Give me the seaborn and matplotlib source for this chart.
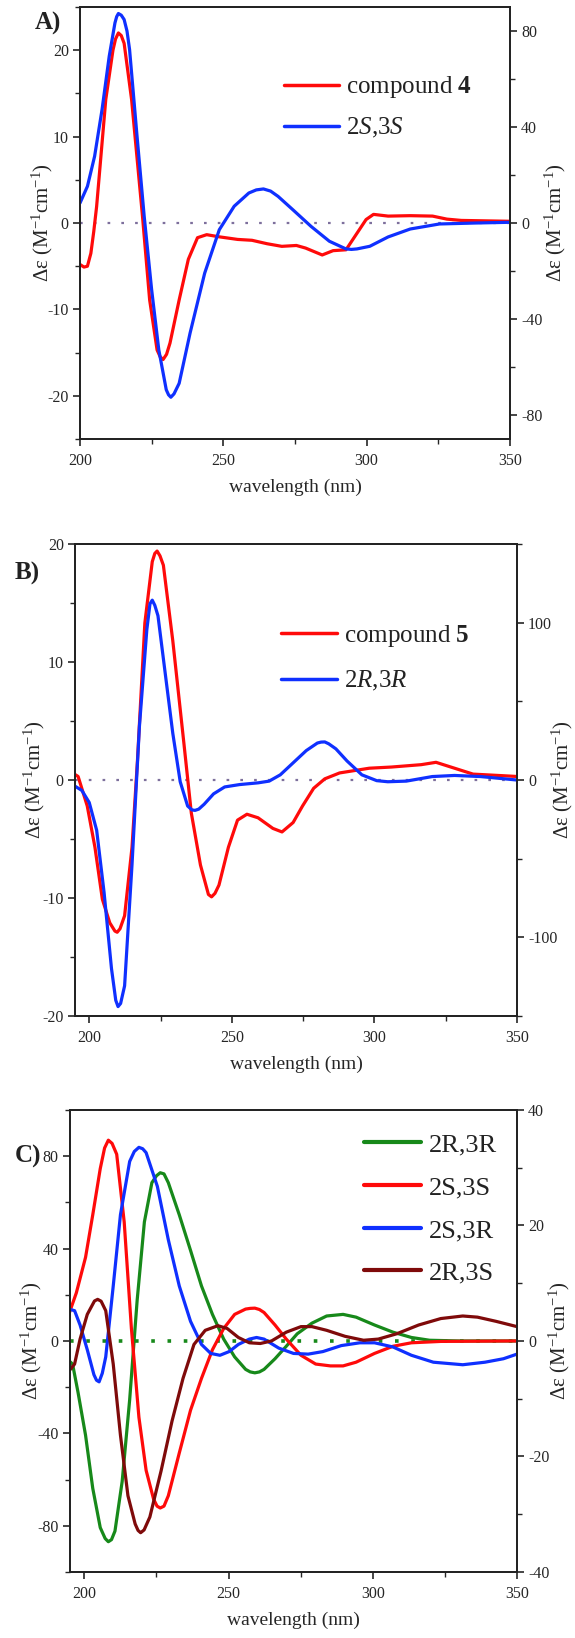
import numpy as np
import matplotlib
matplotlib.use("Agg")
import matplotlib.pyplot as plt
import matplotlib.ticker as ticker
from matplotlib.lines import Line2D
import seaborn as sns

# ---------------- data ----------------
# Panel A: compound 4 (left axis) and calculated 2S,3S (right axis)
a_red_wl = [200, 201.4, 202.6, 203.8, 204.8, 205.8, 209, 211.5, 212.4, 213.4, 214.4, 215.4, 218,
            221.8, 224.3, 226.9, 228, 229, 230.2, 231.4, 234.6, 237.8, 241, 244.2, 248.6, 255,
            260, 265.3, 270.4, 275.5, 278.7, 284.5, 288.3, 292.8, 296.6, 299.8, 302.4, 307.5,
            315.2, 323, 328, 333, 350]
a_red_de = [-4.8, -5.1, -5.0, -3.5, -1.0, 1.9, 14.3, 20, 21.3, 22, 21.7, 20.8, 14.3,
            0.8, -8.9, -14.7, -15.5, -15.8, -15.2, -13.9, -8.9, -4.2, -1.7, -1.35, -1.6, -1.9,
            -2.0, -2.4, -2.7, -2.6, -2.9, -3.7, -3.2, -3.1, -1.2, 0.4, 1.0, 0.8,
            0.85, 0.8, 0.45, 0.3, 0.2]
a_blue_wl = [200, 202.6, 205.1, 207.7, 210.2, 212.2, 212.8, 213.4, 214.4, 215.4, 216.4, 217.3,
             219.8, 222.4, 225, 227.5, 230.1, 230.9, 231.7, 232.8, 234.6, 238.4, 243.5, 248.6,
             253.8, 258.9, 261.5, 264, 266.5, 269.1, 274.2, 280.6, 287, 292.8, 294.7, 296.6,
             301.1, 307.5, 315.2, 325.4, 338, 350]
a_blue_de = [8.3, 15.3, 27.8, 47.3, 69.5, 83.4, 86, 87.3, 86.6, 84.8, 80, 72.3,
             37.6, 2.8, -27.8, -52.9, -69.5, -71.6, -72.6, -71.2, -66.8, -45.9, -20.9, -2.8,
             7.0, 12.5, 13.8, 14.2, 13.3, 11.1, 5.6, -1.4, -7.6, -10.8, -11, -10.8,
             -9.7, -5.8, -2.5, -0.4, 0, 0.3]

# Panel B: compound 5 (left axis) and calculated 2R,3R (right axis)
b_red_wl = [194.8, 196.1, 199.3, 202, 204.6, 207.2, 209, 209.8, 210.8, 212.4, 215, 216.9, 219.5,
            222.1, 223, 223.8, 224.8, 226, 229.3, 233.2, 235.8, 239, 241.8, 242.9, 244.1, 245.5,
            248.8, 252, 255.3, 259.2, 264.4, 267.6, 271.5, 274.8, 278.7, 282.6, 287.8, 293,
            298.2, 306, 311.2, 316.4, 321.6, 324.2, 329.4, 334.6, 342.4, 350]
b_red_de = [0.5, 0.3, -2.2, -5.7, -10.1, -12.1, -12.8, -12.9, -12.6, -11.5, -5.7, 1.6, 13.3,
            18.5, 19.2, 19.4, 19.0, 18.2, 11.8, 3.1, -2.8, -7.2, -9.7, -9.9, -9.6, -8.9,
            -5.7, -3.4, -2.9, -3.2, -4.1, -4.4, -3.6, -2.2, -0.7, 0.1, 0.6, 0.8,
            1.0, 1.1, 1.2, 1.3, 1.5, 1.3, 0.9, 0.5, 0.4, 0.3]
b_blue_wl = [194.8, 197.4, 200, 202.6, 205.2, 207.8, 209.3, 210.1, 211, 212.4, 215, 217.6, 220.2,
             221.3, 222.1, 223, 224.1, 226.7, 229.3, 231.9, 234.5, 236, 237.1, 238.4, 240.3,
             243.6, 247.5, 252.7, 259.2, 263.1, 267, 270.9, 276.1, 280, 281.3, 282.6, 284,
             286.5, 290.4, 295.6, 300.8, 304.7, 311.2, 320.3, 328.1, 337.2, 350]
b_blue_de = [-3.7, -6.6, -14.3, -31.9, -71.4, -119.8, -140, -144, -142, -130.8, -53.8, 34.1, 95.6,
             112, 114.3, 111, 104.4, 67, 29.7, -1.1, -16.5, -19, -19.3, -18.5, -15.4,
             -8.8, -4.4, -2.9, -1.8, -0.7, 3.3, 9.9, 18.7, 23.5, 24.1, 24.2, 23,
             19.8, 12.1, 3.3, -0.4, -1.1, -0.7, 2.2, 2.9, 2.2, 0]

# Panel C: calculated spectra of the four isomers (left axis)
c_rr_wl = [194.6, 195.9, 197.8, 200.4, 202.9, 205.5, 207.2, 208.3, 209.4, 210.6, 213.1, 215.7,
           218.3, 220.8, 223.4, 225, 226.3, 227.6, 229.1, 232.9, 236.8, 240.6, 244.4, 248.3,
           252.1, 255.9, 257.5, 259.1, 260.7, 262.3, 266.1, 270, 273.8, 278.9, 284, 289.7,
           294.2, 300.6, 307, 313.4, 319.7, 330, 350]
c_rr_de = [-8.5, -10, -22.3, -40.8, -63.8, -80.8, -85.5, -86.9, -86, -82.3, -60.8, -25.4,
           17.7, 51.5, 68.5, 71.5, 72.8, 72.3, 68.5, 54.6, 39.2, 23.8, 11.5, 0.8,
           -6.9, -12.3, -13.4, -13.8, -13.4, -12.3, -7.7, -2.3, 3.1, 7.7, 10.8, 11.5,
           10.3, 6.9, 3.8, 1.5, 0.3, 0, 0]
c_ss_wl = [194.6, 197.2, 200.4, 202.9, 205.5, 207, 208.3, 209.6, 211.2, 213.8, 216.3, 218.9,
           221.4, 224, 225.2, 226.3, 227.6, 229.1, 232.9, 236.8, 240.6, 244.4, 248.3, 252.1,
           255.9, 257.5, 259.1, 260.7, 262.3, 266.1, 270, 275.1, 280.2, 285.3, 289.7, 294.2,
           300.6, 307, 313.4, 323.6, 350]
c_ss_de = [11.5, 20.8, 36.2, 54.6, 74.6, 83.5, 86.9, 85.5, 80.8, 51.5, 5.4, -33,
           -56, -68.5, -71.5, -72.3, -71.5, -67, -48.5, -30, -16.2, -3.8, 5.4, 11.5,
           13.8, 14.1, 14.2, 13.6, 12.3, 6.9, 0.8, -6.2, -10, -10.8, -10.8, -9.2,
           -5.4, -2.3, -0.8, -0.2, 0]
c_sr_wl = [194.6, 196.6, 198.5, 201, 203.3, 204.2, 205.1, 206.2, 207.4, 210, 212.5, 215.7,
           217.3, 218.9, 220.2, 221.4, 225.3, 229.1, 232.9, 236.8, 240.6, 243.8, 247, 250.2,
           253.4, 257.2, 259.7, 262.3, 267.4, 272.5, 277.6, 282.7, 289.1, 295.5, 300.6, 307,
           313.4, 321, 331.2, 338.9, 345.3, 350]
c_sr_de = [13.8, 13.1, 6.9, -3.8, -14.6, -17, -17.7, -14, -6.9, 23.8, 54.6, 77.7,
           82, 83.8, 83.2, 81.5, 66.9, 43.8, 23.8, 8.5, -1.5, -5.4, -6.2, -4.6,
           -1.5, 0.8, 1.5, 0.8, -3.1, -5.4, -5.7, -4.6, -2, -0.8, -0.8, -2.6,
           -6.2, -9.2, -10.3, -9.2, -7.7, -5.7]
c_rs_wl = [194.6, 196.6, 198.5, 201, 203.5, 204.6, 205.8, 207.4, 210, 212.5, 215.1, 217.6,
           218.6, 219.5, 220.7, 222.7, 226.6, 230.4, 234.2, 238, 241.9, 246.3, 249.5, 253.4,
           257.2, 261, 264.9, 270, 275.1, 278.9, 284, 290.4, 296.8, 301.9, 308.3, 315.9,
           323.6, 331.2, 336.3, 342.7, 350]
c_rs_de = [-13.1, -10, 0.8, 11.5, 17.3, 18, 17.2, 13.1, -10, -40.8, -67, -79.2,
           -82, -83, -81.8, -76.2, -56.2, -34.6, -16.2, -1.5, 4.6, 6.6, 5.4, 1.5,
           -0.8, -1.1, 0, 3.8, 6.2, 6.2, 4.6, 2, 0.3, 0.8, 3.1, 6.9,
           9.7, 10.8, 10.3, 8.5, 6.2]

a_labels = ['compound $\\mathbf{4}$', '2$\\mathit{S}$,3$\\mathit{S}$']
b_labels = ['compound $\\mathbf{5}$', '2$\\mathit{R}$,3$\\mathit{R}$']
c_labels = ['2R,3R', '2S,3S', '2S,3R', '2R,3S']

RED = '#ff0a0a'
BLUE = '#0f30ff'
GREEN = '#17891a'
DARKRED = '#7f0a0a'

# ---------------- style ----------------
sns.set_style('ticks')
plt.rcParams['font.family'] = ['Liberation Serif', 'DejaVu Serif']
plt.rcParams['mathtext.fontset'] = 'custom'
plt.rcParams['mathtext.rm'] = 'Liberation Serif'
plt.rcParams['mathtext.it'] = 'Liberation Serif:italic'
plt.rcParams['mathtext.bf'] = 'Liberation Serif:bold'
plt.rcParams['axes.unicode_minus'] = False
plt.rcParams['axes.linewidth'] = 1.3
plt.rcParams['axes.edgecolor'] = '#222222'
plt.rcParams['text.color'] = '#222222'

YLAB = 'Δε (M$^{-1}$cm$^{-1}$)'
LINE_KW = dict(lw=2.3, sort=False, estimator=None, solid_joinstyle='round', solid_capstyle='round')

fig = plt.figure(figsize=(5.75, 16.38), dpi=100)


def style_axes(ax, ax2, lmaj, lmin, rmaj, rmin, lab_l, lab_r):
    ax.set_xlabel('wavelength (nm)', fontsize=14, labelpad=7)
    ax.set_ylabel(YLAB, fontsize=15)
    ax2.set_ylabel(YLAB, fontsize=15, rotation=90)
    ax.yaxis.label.set_verticalalignment('center')
    ax2.yaxis.label.set_verticalalignment('center')
    ax.yaxis.set_label_coords(lab_l, 0.5)
    ax2.yaxis.set_label_coords(lab_r, 0.5)
    ax.xaxis.set_major_locator(ticker.MultipleLocator(50))
    ax.xaxis.set_minor_locator(ticker.MultipleLocator(25))
    ax.yaxis.set_major_locator(ticker.MultipleLocator(lmaj))
    ax.yaxis.set_minor_locator(ticker.MultipleLocator(lmin))
    ax2.yaxis.set_major_locator(ticker.MultipleLocator(rmaj))
    ax2.yaxis.set_minor_locator(ticker.MultipleLocator(rmin))
    for a in (ax, ax2):
        a.tick_params(which='major', length=5, width=1.2, labelsize=11.5, direction='out', pad=3)
        a.tick_params(which='minor', length=3.5, width=1.0, direction='out')
        for s in a.spines.values():
            s.set_visible(True)
    ax.tick_params(axis='x', which='major', pad=5)
    ax.tick_params(axis='x', top=False, which='both')
    ax2.tick_params(axis='x', top=False, bottom=False, which='both')


def add_legend(ax, handles, labels, x, y, fs, spacing, hlen):
    ax.legend(handles, labels, loc='upper left', bbox_to_anchor=(x, y), frameon=False,
              fontsize=fs, borderpad=0, borderaxespad=0, handlelength=hlen,
              handletextpad=0.3, labelspacing=spacing)


# ---------------- Panel A ----------------
axA = fig.add_axes([0.1391, 0.7320, 0.7478, 0.2637])
axA2 = axA.twinx()
axA.axhline(0, color='#7d6f9c', lw=1.6, ls=(0, (1.2, 5)), zorder=1)
sns.lineplot(x=a_red_wl, y=a_red_de, ax=axA, color=RED, **LINE_KW)
sns.lineplot(x=a_blue_wl, y=a_blue_de, ax=axA2, color=BLUE, **LINE_KW)
axA.set_xlim(200, 350)
axA.set_ylim(-25, 25)
axA2.set_ylim(-90, 90)
style_axes(axA, axA2, 10, 5, 40, 20, -0.088, 1.105)
add_legend(axA, [Line2D([], [], color=RED, lw=2.5), Line2D([], [], color=BLUE, lw=2.5)],
           a_labels, 0.474, 0.844, 18, 0.62, 2.2)
fig.text(35 / 575, 1 - 23 / 1638, 'A)', fontsize=18, fontweight='bold', va='center', ha='left')

# ---------------- Panel B ----------------
axB = fig.add_axes([0.1304, 0.3797, 0.7687, 0.2882])
axB2 = axB.twinx()
axB.axhline(0, color='#7d6f9c', lw=1.6, ls=(0, (1.2, 5)), zorder=1)
sns.lineplot(x=b_red_wl, y=b_red_de, ax=axB, color=RED, **LINE_KW)
sns.lineplot(x=b_blue_wl, y=b_blue_de, ax=axB2, color=BLUE, **LINE_KW)
axB.set_xlim(195, 350)
axB.set_ylim(-20, 20)
axB2.set_ylim(-150, 150)
style_axes(axB, axB2, 10, 5, 100, 50, -0.092, 1.102)
add_legend(axB, [Line2D([], [], color=RED, lw=2.5), Line2D([], [], color=BLUE, lw=2.5)],
           b_labels, 0.466, 0.833, 18, 0.8, 2.24)
fig.text(15 / 575, 1 - 573 / 1638, 'B)', fontsize=18, fontweight='bold', va='center', ha='left')

# ---------------- Panel C ----------------
axC = fig.add_axes([0.1217, 0.0403, 0.7774, 0.2821])
axC2 = axC.twinx()
axC.axhline(0, color=GREEN, lw=2.6, ls=(0, (1, 3.5)), zorder=1)
c_series = [(c_rr_wl, c_rr_de, GREEN), (c_ss_wl, c_ss_de, RED),
            (c_sr_wl, c_sr_de, BLUE), (c_rs_wl, c_rs_de, DARKRED)]
for wl, de, col in c_series:
    sns.lineplot(x=wl, y=de, ax=axC, color=col, **LINE_KW)
axC.set_xlim(195, 350)
axC.set_ylim(-100, 100)
axC2.set_ylim(-40, 40)
style_axes(axC, axC2, 40, 20, 20, 10, -0.087, 1.095)
add_legend(axC, [Line2D([], [], color=c, lw=3) for _, _, c in c_series],
           c_labels, 0.658, 0.95, 19, 0.73, 2.16)
fig.text(15 / 575, 1 - 1156 / 1638, 'C)', fontsize=18, fontweight='bold', va='center', ha='left')

fig.savefig('out.png', dpi=100)
